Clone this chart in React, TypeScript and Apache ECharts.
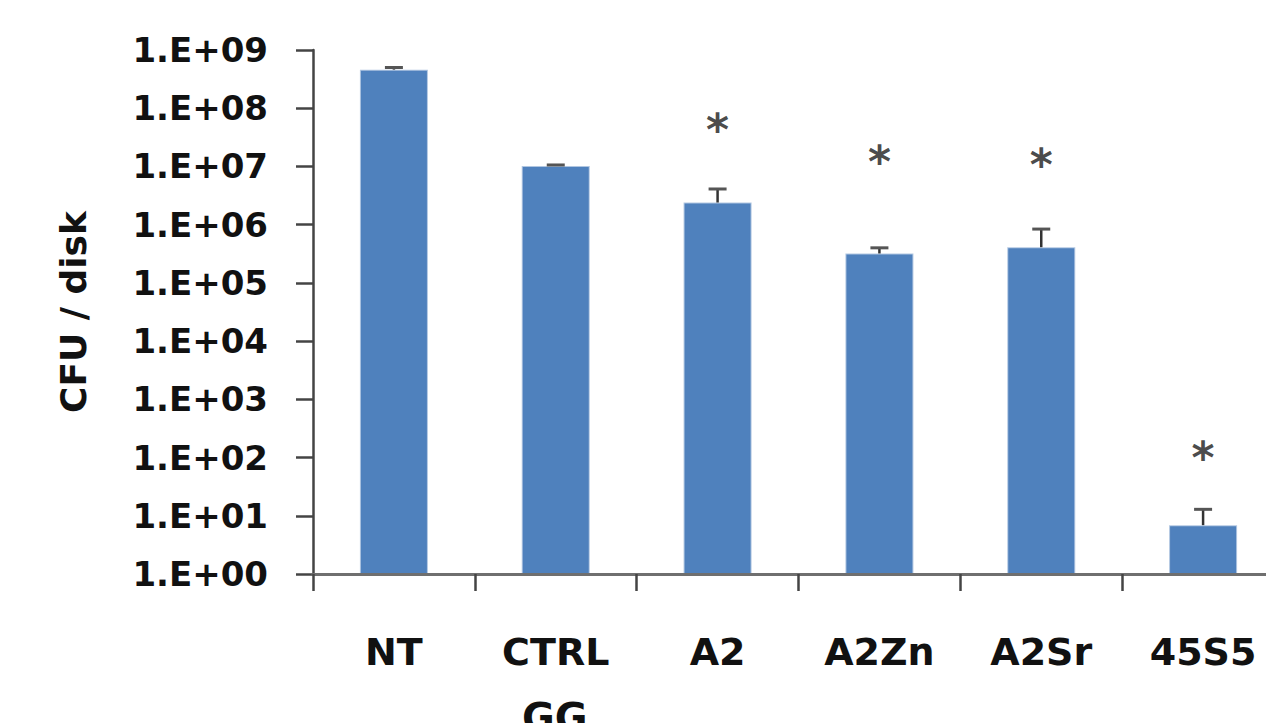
import React, { useEffect, useRef } from "react";
import * as echarts from "echarts";

const categories = ["NT", "CTRL", "A2", "A2Zn", "A2Sr", "45S5"];
const meanValues = [4.6e8, 1.02e7, 2.4e6, 3.2e5, 4.1e5, 6.9];
const upperValues = [5.0e8, 1.06e7, 4.1e6, 4.0e5, 8.4e5, 12.9];
const significance = [null, null, 5.2e7, 1.5e7, 1.3e7, 120];
const yTickExponents = [0, 1, 2, 3, 4, 5, 6, 7, 8, 9];

export default function App() {
  const ref = useRef<HTMLDivElement>(null);
  useEffect(() => {
    if (!ref.current) return;
    const chart = echarts.init(ref.current, null, { renderer: "svg" });
    const errData = categories.map((_, i) => [i, meanValues[i], upperValues[i]]);
    const sigData = significance.map((v, i) => (v == null ? null : [i, v]));
    chart.setOption({
      animation: false,
      backgroundColor: "#ffffff",
      grid: {
        left: 313,
        top: 50,
        height: 524,
        width: 971,
        containLabel: false,
        outerBoundsMode: "none",
      },
      xAxis: {
        type: "category",
        data: categories,
        z: 5,
        axisLine: { lineStyle: { color: "#6f6f6f", width: 3 } },
        axisTick: { show: true, length: 17, lineStyle: { color: "#444", width: 2.5 } },
        axisLabel: {
          margin: 59,
          color: "#111",
          fontFamily: "DejaVu Sans",
          fontWeight: "bold",
          fontSize: 38,
        },
      },
      yAxis: {
        type: "log",
        logBase: 10,
        min: Math.pow(10, yTickExponents[0]),
        max: Math.pow(10, yTickExponents[yTickExponents.length - 1]),
        splitNumber: 9,
        name: "CFU / disk",
        nameLocation: "middle",
        nameGap: 222,
        nameRotate: 90,
        nameTextStyle: {
          color: "#111",
          fontFamily: "DejaVu Sans",
          fontWeight: "bold",
          fontSize: 36,
        },
        axisLine: { show: true, lineStyle: { color: "#444", width: 2.5 } },
        axisTick: { show: true, length: 17, lineStyle: { color: "#444", width: 2.5 } },
        minorTick: { show: false },
        splitLine: { show: false },
        axisLabel: {
          margin: 45,
          color: "#111",
          fontFamily: "DejaVu Sans",
          fontWeight: "bold",
          fontSize: 34,
          formatter: (v: number) =>
            "1.E+" + String(Math.round(Math.log10(v))).padStart(2, "0"),
        },
      },
      series: [
        {
          type: "bar",
          data: meanValues,
          barWidth: 68,
          itemStyle: {
            color: "#4F81BD",
            borderColor: "rgba(79,129,189,0.45)",
            borderWidth: 2,
          },
        },
        {
          type: "custom",
          data: errData,
          z: 4,
          renderItem: (params: any, api: any) => {
            const x = api.value(0);
            const lo = api.coord([x, api.value(1)]);
            const hi = api.coord([x, api.value(2)]);
            const hw = 9;
            return {
              type: "group",
              children: [
                {
                  type: "line",
                  shape: { x1: lo[0], y1: lo[1], x2: hi[0], y2: hi[1] },
                  style: { stroke: "#333", lineWidth: 2.5 },
                },
                {
                  type: "line",
                  shape: { x1: hi[0] - hw, y1: hi[1], x2: hi[0] + hw, y2: hi[1] },
                  style: { stroke: "#555", lineWidth: 3 },
                },
              ],
            };
          },
        },
        {
          type: "scatter",
          data: sigData,
          symbolSize: 1,
          itemStyle: { color: "rgba(0,0,0,0)" },
          label: {
            show: true,
            position: "inside",
            formatter: "*",
            color: "#1a1a1a",
            fontFamily: "DejaVu Sans",
            fontWeight: "bold",
            fontSize: 44,
            offset: [0, 5],
          },
        },
      ],
      graphic: [
        {
          type: "text",
          left: 522,
          top: 698,
          style: {
            text: "GG",
            fill: "#111",
            fontFamily: "DejaVu Sans",
            fontWeight: "bold",
            fontSize: 40,
          },
        },
      ],
    });
    return () => chart.dispose();
  }, []);
  return (
    <div
      ref={ref}
      style={{ position: "absolute", left: 0, top: 0, width: 1266, height: 723, overflow: "hidden" }}
    />
  );
}
